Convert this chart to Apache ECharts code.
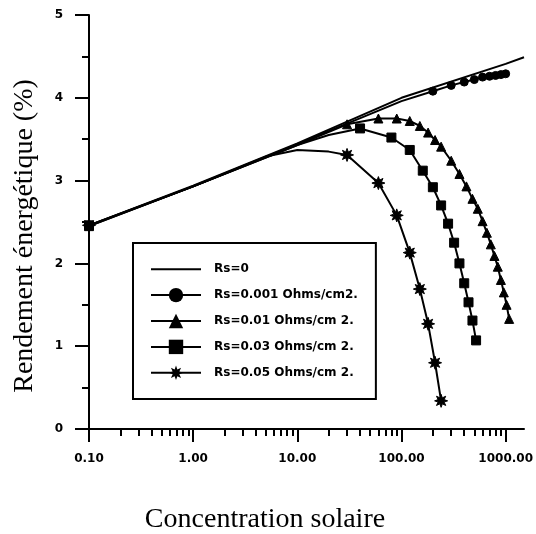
<!DOCTYPE html>
<html><head><meta charset="utf-8">
<script src="https://cdn.jsdelivr.net/npm/echarts@6/dist/echarts.min.js"></script>
<style>html,body{margin:0;padding:0;background:#fff}#c{width:536px;height:534px}</style>
</head><body><div id="c"></div>
<script>
// ---- data ----
const seriesNames = ['Rs=0', 'Rs=0.001 Ohms/cm2.', 'Rs=0.01 Ohms/cm 2.', 'Rs=0.03 Ohms/cm 2.', 'Rs=0.05 Ohms/cm 2.'];
const xMajorTicks = [0.1, 1, 10, 100, 1000];
const yTicks = [0, 1, 2, 3, 4, 5];
const xTitle = 'Concentration solaire';
const yTitle = 'Rendement énergétique (%)';

const conc_Rs0 = [0.1, 1, 10, 100, 1000, 1500];
const eff_Rs0  = [2.46, 2.94, 3.45, 4.00, 4.41, 4.49];

const conc_Rs001 = [0.1, 1, 10, 100, 200, 300, 400, 500, 600, 700, 800, 900, 1000];
const eff_Rs001  = [2.45, 2.93, 3.44, 3.96, 4.08, 4.15, 4.19, 4.22, 4.25, 4.26, 4.27, 4.28, 4.29];

const conc_Rs01 = [0.1, 1, 10, 30, 60, 90, 120, 150, 180, 210, 240, 300, 360, 420, 480, 540, 600, 660, 720, 780, 840, 900, 960, 1020, 1080];
const eff_Rs01  = [2.45, 2.93, 3.43, 3.68, 3.75, 3.75, 3.72, 3.66, 3.58, 3.49, 3.41, 3.24, 3.08, 2.93, 2.78, 2.66, 2.51, 2.37, 2.23, 2.09, 1.96, 1.80, 1.65, 1.50, 1.33];

const conc_Rs03 = [0.1, 1, 10, 20, 40, 80, 120, 160, 200, 240, 280, 320, 360, 400, 440, 480, 520];
const eff_Rs03  = [2.46, 2.93, 3.43, 3.55, 3.63, 3.52, 3.37, 3.12, 2.92, 2.70, 2.48, 2.25, 2.00, 1.76, 1.53, 1.31, 1.07];

const conc_Rs05 = [0.1, 1, 5, 10, 20, 30, 60, 90, 120, 150, 180, 210, 240];
const eff_Rs05  = [2.46, 2.93, 3.29, 3.37, 3.35, 3.31, 2.97, 2.58, 2.13, 1.69, 1.27, 0.80, 0.34];

// ---- styling / construction ----
const xMinorTicks = [];
[0.1, 1, 10, 100].forEach(d => { for (let k = 2; k <= 9; k++) xMinorTicks.push(+(d * k).toPrecision(3)); });

function starPath() {
  const pts = [];
  for (let i = 0; i < 16; i++) {
    const a = Math.PI * i / 8 - Math.PI / 2;
    const r = i % 2 === 0 ? 10 : 5;
    pts.push((10 + r * Math.cos(a)).toFixed(2) + ',' + (10 + r * Math.sin(a)).toFixed(2));
  }
  return 'path://M' + pts.join('L') + 'Z';
}
const STAR = starPath();

function build(conc, eff, markFrom) {
  return conc.map((c, i) => {
    const item = { value: [c, eff[i]] };
    if (!(i === 0 || c >= markFrom)) item.symbol = 'none';
    return item;
  });
}

const specs = [
  { conc: conc_Rs0, eff: eff_Rs0, symbol: 'none', size: 0, from: Infinity },
  { conc: conc_Rs001, eff: eff_Rs001, symbol: 'circle', size: 8, from: 200 },
  { conc: conc_Rs01, eff: eff_Rs01, symbol: 'triangle', size: 9, from: 30 },
  { conc: conc_Rs03, eff: eff_Rs03, symbol: 'rect', size: 9, from: 40 },
  { conc: conc_Rs05, eff: eff_Rs05, symbol: STAR, size: 13, from: 30 }
];

const series = specs.map((s, k) => ({
  name: seriesNames[k],
  type: 'line',
  xAxisIndex: 0,
  yAxisIndex: 0,
  data: build(s.conc, s.eff, s.from),
  symbol: s.symbol,
  symbolSize: s.size,
  showSymbol: s.symbol !== 'none',
  showAllSymbol: true,
  lineStyle: { color: '#000', width: 2 },
  itemStyle: { color: '#000', borderColor: '#000' },
  animation: false,
  clip: false
}));

const legendData = seriesNames.map((n, k) => k === 0 ? { name: n, itemStyle: { opacity: 0 } } : { name: n });

const GRID = { left: 89, right: 5, top: 15, bottom: 105 };
const H = 534;
const axisY = H - GRID.bottom;

const chart = echarts.init(document.getElementById('c'), null, { renderer: 'canvas' });
chart.setOption({
  backgroundColor: '#fff',
  animation: false,
  grid: Object.assign({ containLabel: false }, GRID),
  legend: {
    show: true,
    data: legendData,
    orient: 'vertical',
    left: 133, top: 243,
    itemWidth: 50, itemHeight: 18, itemGap: 11.5,
    padding: [19, 18, 19, 17],
    borderColor: '#000', borderWidth: 2,
    textStyle: { color: '#000', fontFamily: 'DejaVu Sans', fontWeight: 'bold', fontSize: 12, padding: [0, 0, 0, 8] },
    selectedMode: false
  },
  graphic: [
    { type: 'text', x: 265, y: 520, style: { text: xTitle, fill: '#000', font: '28px "Liberation Serif"', textAlign: 'center', textVerticalAlign: 'middle' } },
    { type: 'text', x: 25, y: 236, rotation: Math.PI / 2, style: { text: yTitle, fill: '#000', font: '28px "Liberation Serif"', textAlign: 'center', textVerticalAlign: 'middle' } },
    // small overshoot of the axes past their crossing point, as in the reference
    { type: 'line', shape: { x1: GRID.left - 9, y1: axisY, x2: GRID.left, y2: axisY }, style: { stroke: '#000', lineWidth: 2 } },
    { type: 'line', shape: { x1: GRID.left, y1: axisY, x2: GRID.left, y2: axisY + 12 }, style: { stroke: '#000', lineWidth: 2 } }
  ],
  xAxis: [{
    type: 'log', logBase: 10, min: 0.1, max: 1500,
    position: 'bottom',
    axisLine: { show: true, lineStyle: { color: '#000', width: 2 } },
    axisTick: { show: true, customValues: xMajorTicks, length: 13, lineStyle: { color: '#000', width: 2 } },
    axisLabel: { show: true, customValues: xMajorTicks, formatter: v => Number(v).toFixed(2), margin: 24,
      color: '#000', fontFamily: 'DejaVu Sans', fontWeight: 'bold', fontSize: 12 },
    splitLine: { show: false }, minorTick: { show: false }
  }, {
    type: 'log', logBase: 10, min: 0.1, max: 1500,
    position: 'bottom',
    axisLine: { show: false },
    axisTick: { show: true, customValues: xMinorTicks, length: 7, lineStyle: { color: '#000', width: 2 } },
    axisLabel: { show: false },
    splitLine: { show: false }
  }],
  yAxis: [{
    type: 'value', min: 0, max: 5, interval: 1,
    axisLine: { show: true, lineStyle: { color: '#000', width: 2 } },
    axisTick: { show: true, length: 14, lineStyle: { color: '#000', width: 2 } },
    minorTick: { show: true, splitNumber: 2, length: 7, lineStyle: { color: '#000', width: 2 } },
    axisLabel: { show: true, margin: 26, color: '#000', fontFamily: 'DejaVu Sans', fontWeight: 'bold', fontSize: 12,
      formatter: v => String(yTicks[Math.round(v)]) },
    splitLine: { show: false }, minorSplitLine: { show: false }
  }],
  series: series
});
</script>
</body></html>
